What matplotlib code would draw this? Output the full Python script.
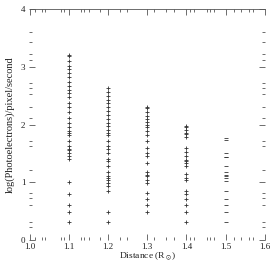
import matplotlib
matplotlib.use("Agg")
import matplotlib.pyplot as plt

# distance columns (solar radii) and log photoelectron rates
d11 = [3.20, 3.18, 3.10, 3.01, 2.96, 2.89, 2.82, 2.73, 2.66, 2.59, 2.54, 2.47, 2.38, 2.30,
       2.21, 2.12, 2.03, 1.95, 1.88, 1.86, 1.81, 1.72, 1.63, 1.58, 1.55, 1.50, 1.46, 1.41,
       1.00, 0.79, 0.61, 0.49, 0.31]
d12 = [2.64, 2.56, 2.49, 2.43, 2.38, 2.31, 2.23, 2.16, 2.10, 2.03, 1.98, 1.91, 1.86, 1.81,
       1.72, 1.63, 1.57, 1.50, 1.41, 1.36, 1.29, 1.17, 1.11, 1.08, 1.04, 0.99, 0.94, 0.85,
       0.49, 0.31]
d13 = [2.30, 2.28, 2.21, 2.14, 2.10, 2.05, 2.00, 1.95, 1.88, 1.81, 1.72, 1.60, 1.51, 1.46,
       1.34, 1.17, 1.13, 1.10, 1.04, 0.99, 0.82, 0.71, 0.61, 0.49]
d14 = [1.98, 1.95, 1.90, 1.86, 1.83, 1.78, 1.60, 1.53, 1.46, 1.39, 1.37, 1.34, 1.29, 1.15,
       1.08, 1.04, 0.85, 0.80, 0.71, 0.61, 0.49, 0.31]
d15 = [1.77, 1.74, 1.51, 1.44, 1.43, 1.29, 1.17, 1.13, 1.11, 1.08, 1.03, 0.85, 0.71, 0.61,
       0.49, 0.31]

distances = [1.1, 1.2, 1.3, 1.4, 1.5]
columns = [d11, d12, d13, d14, d15]

xticks = [1.0, 1.1, 1.2, 1.3, 1.4, 1.5, 1.6]
xtick_labels = ["1.0", "1.1", "1.2", "1.3", "1.4", "1.5", "1.6"]
yticks = [0, 1, 2, 3, 4]

x_minor = [1.013, 1.031, 1.039, 1.081, 1.088, 1.132, 1.139, 1.151, 1.179, 1.230, 1.248,
           1.317, 1.349, 1.369, 1.410, 1.418, 1.451, 1.459, 1.469, 1.52, 1.54, 1.56, 1.57]
y_minor = [0.23, 0.31, 0.61, 0.73, 0.82, 1.22, 1.62, 1.72, 2.12, 2.31, 2.52, 2.63, 2.71,
           3.11, 3.22, 3.43, 3.60]

plt.rcParams['font.family'] = ['Liberation Serif', 'DejaVu Serif']
plt.rcParams['mathtext.fontset'] = 'stix'

fig = plt.figure(figsize=(2.74, 2.66), dpi=100)
ax = fig.add_axes([29.5 / 274, 26 / 266, 235.5 / 274, 231 / 266])

for x, vals in zip(distances, columns):
    mk = '_' if x == 1.5 else '+'
    ax.plot([x] * len(vals), vals, linestyle='none', marker=mk, markersize=3,
            markeredgewidth=0.6, color='#333333')

ax.set_xlim(1.0, 1.6)
ax.set_ylim(0, 4)

ax.set_xticks(xticks)
ax.set_xticklabels(xtick_labels)
ax.set_xticks(x_minor, minor=True)
ax.set_yticks(yticks)
ax.set_yticks(y_minor, minor=True)

ax.tick_params(which='both', direction='in', top=True, right=True, labelsize=6.5,
               width=0.6, color='#555555', labelcolor='#222222', pad=3)
ax.tick_params(axis='x', which='both', pad=2)
ax.tick_params(which='major', length=4)
ax.tick_params(which='minor', length=2)

for side in ['left', 'right', 'bottom']:
    ax.spines[side].set_visible(False)
ax.spines['top'].set_linewidth(0.6)
ax.spines['top'].set_color('#555555')

ax.set_xlabel(r"Distance (R$_\odot$)", fontsize=6.8, labelpad=0, color='#222222')
ax.set_ylabel("log(Photoelectrons)/pixel/second", fontsize=7.5, labelpad=4,
              color='#222222')

fig.savefig("out.png", dpi=100)
